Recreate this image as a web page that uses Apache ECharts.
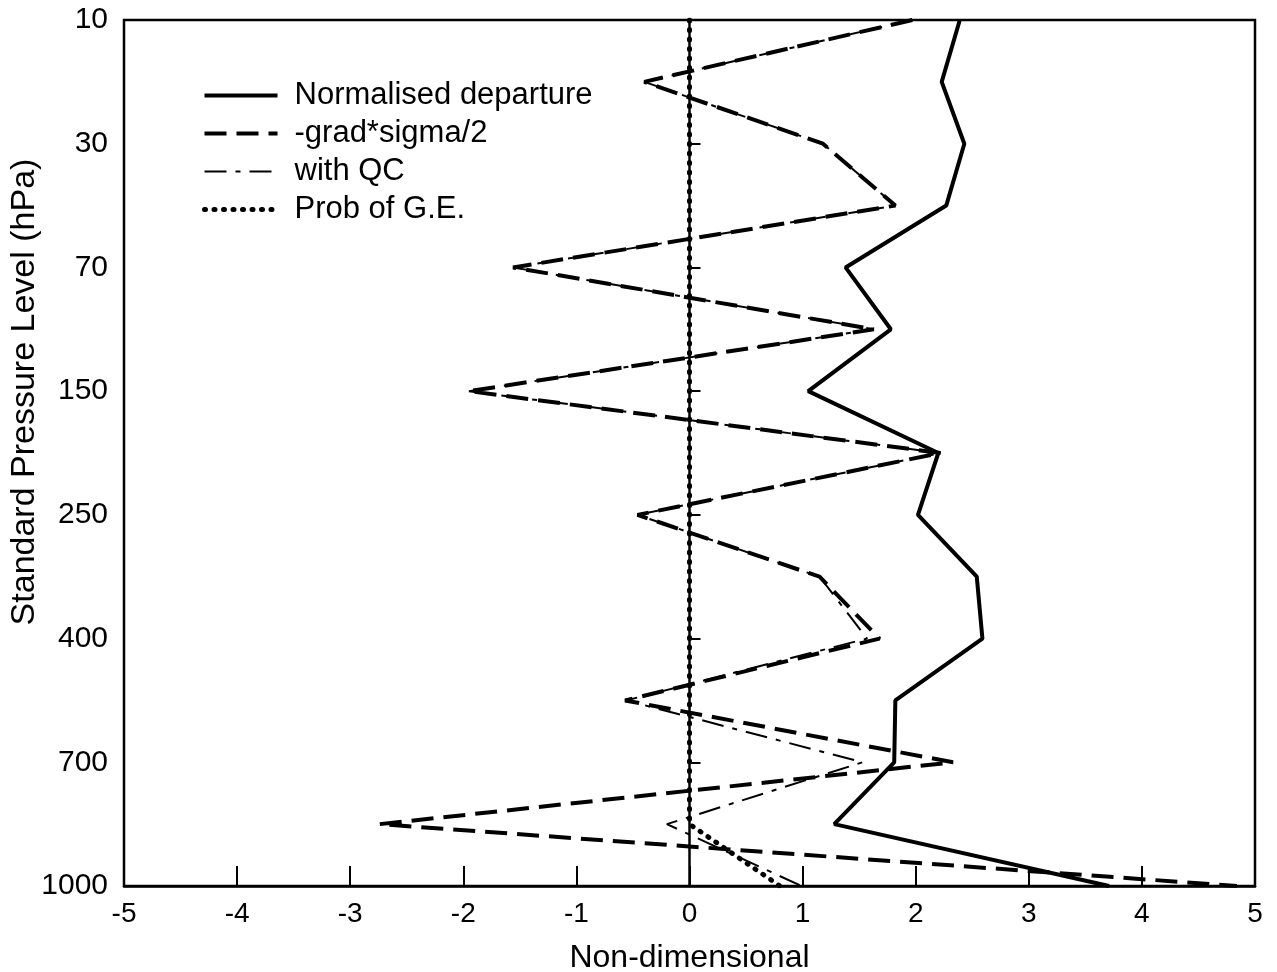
<!DOCTYPE html>
<html>
<head>
<meta charset="utf-8">
<script src="https://cdn.jsdelivr.net/npm/echarts@6/dist/echarts.min.js"></script>
<style>
html,body{margin:0;padding:0;background:#fff;}
#chart{width:1277px;height:972px;}
</style>
</head>
<body>
<div id="chart"></div>
<script>
// Standard pressure levels (hPa), top to bottom
const levels = ['10','20','30','50','70','100','150','200','250','300','400','500','700','850','1000'];
// Series values (non-dimensional) at each level
const normalisedDeparture = [2.39, 2.23, 2.43, 2.27, 1.38, 1.78, 1.05, 2.20, 2.02, 2.54, 2.59, 1.82, 1.81, 1.28, 3.71];
const gradSigma =           [1.97, -0.40, 1.18, 1.82, -1.56, 1.63, -1.95, 2.22, -0.46, 1.15, 1.68, -0.57, 2.33, -2.74, 4.84];
const withQC =              [1.97, -0.40, 1.18, 1.82, -1.56, 1.63, -1.95, 2.22, -0.46, 1.15, 1.57, -0.56, 1.53, -0.20, 0.99];
const probGE =              [0, 0, 0, 0, 0, 0, 0, 0, 0, 0, 0, 0, 0, 0, 0.80];
const xTicks = [-5, -4, -3, -2, -1, 0, 1, 2, 3, 4, 5];
const seriesNames = ['Normalised departure', '-grad*sigma/2', 'with QC', 'Prob of G.E.'];

const FONT = 'Liberation Sans, Arial, Helvetica, sans-serif';
const pair = arr => arr.map((v, i) => [v, levels[i]]);

const styles = [
  {color: '#000', width: 4, type: 'solid'},
  {color: '#000', width: 4, type: [22, 10]},
  {color: '#000', width: 2, type: [22, 9, 5, 9]},
  {color: '#000', width: 5, type: [1, 8.5], cap: 'round'}
];
const values = [normalisedDeparture, gradSigma, withQC, probGE];
const zs = [3, 2, 4, 5];

const chart = echarts.init(document.getElementById('chart'), null, {renderer: 'canvas'});
chart.setOption({
  animation: false,
  backgroundColor: '#ffffff',
  textStyle: {fontFamily: FONT, color: '#000'},
  grid: {left: 124, right: 22, top: 20, bottom: 86, show: true, borderColor: '#000', borderWidth: 2.5,
         containLabel: false, outerBoundsMode: 'none'},
  legend: {
    orient: 'vertical', left: 197, top: 75, itemWidth: 73, itemHeight: 14, itemGap: 7,
    itemStyle: {opacity: 0},
    textStyle: {fontSize: 31, fontFamily: FONT, color: '#000', padding: [0, 0, 0, 12]},
    data: seriesNames.map((n, i) => ({name: n, lineStyle: Object.assign({}, styles[i]), itemStyle: {opacity: 0}}))
  },
  xAxis: {
    type: 'value', min: xTicks[0], max: xTicks[xTicks.length - 1], interval: 1,
    name: 'Non-dimensional', nameLocation: 'middle', nameGap: 56, nameMoveOverlap: false,
    nameTextStyle: {fontSize: 32, fontFamily: FONT, color: '#000'},
    axisLine: {show: true, lineStyle: {color: '#000', width: 2.5}},
    axisTick: {show: true, inside: true, length: 20, lineStyle: {color: '#000', width: 2}},
    axisLabel: {fontSize: 28, color: '#000', margin: 14, fontFamily: FONT},
    splitLine: {show: false}
  },
  yAxis: {
    type: 'category', data: levels, inverse: true, boundaryGap: false,
    name: 'Standard Pressure Level (hPa)', nameLocation: 'middle', nameGap: 82, nameRotate: 90,
    nameMoveOverlap: false,
    nameTextStyle: {fontSize: 34, fontFamily: FONT, color: '#000', padding: [0, 0, 0, 122]},
    axisLine: {show: true, lineStyle: {color: '#000', width: 2.5}},
    axisTick: {show: true, inside: true, length: 11, interval: 1, lineStyle: {color: '#000', width: 2}},
    axisLabel: {fontSize: 30, color: '#000', margin: 16, interval: 1, fontFamily: FONT},
    splitLine: {show: false}
  },
  series: seriesNames.map((n, i) => ({
    name: n, type: 'line', symbol: 'none', showSymbol: false, data: pair(values[i]),
    lineStyle: styles[i], itemStyle: {color: '#000'}, z: zs[i]
  }))
});
</script>
</body>
</html>
